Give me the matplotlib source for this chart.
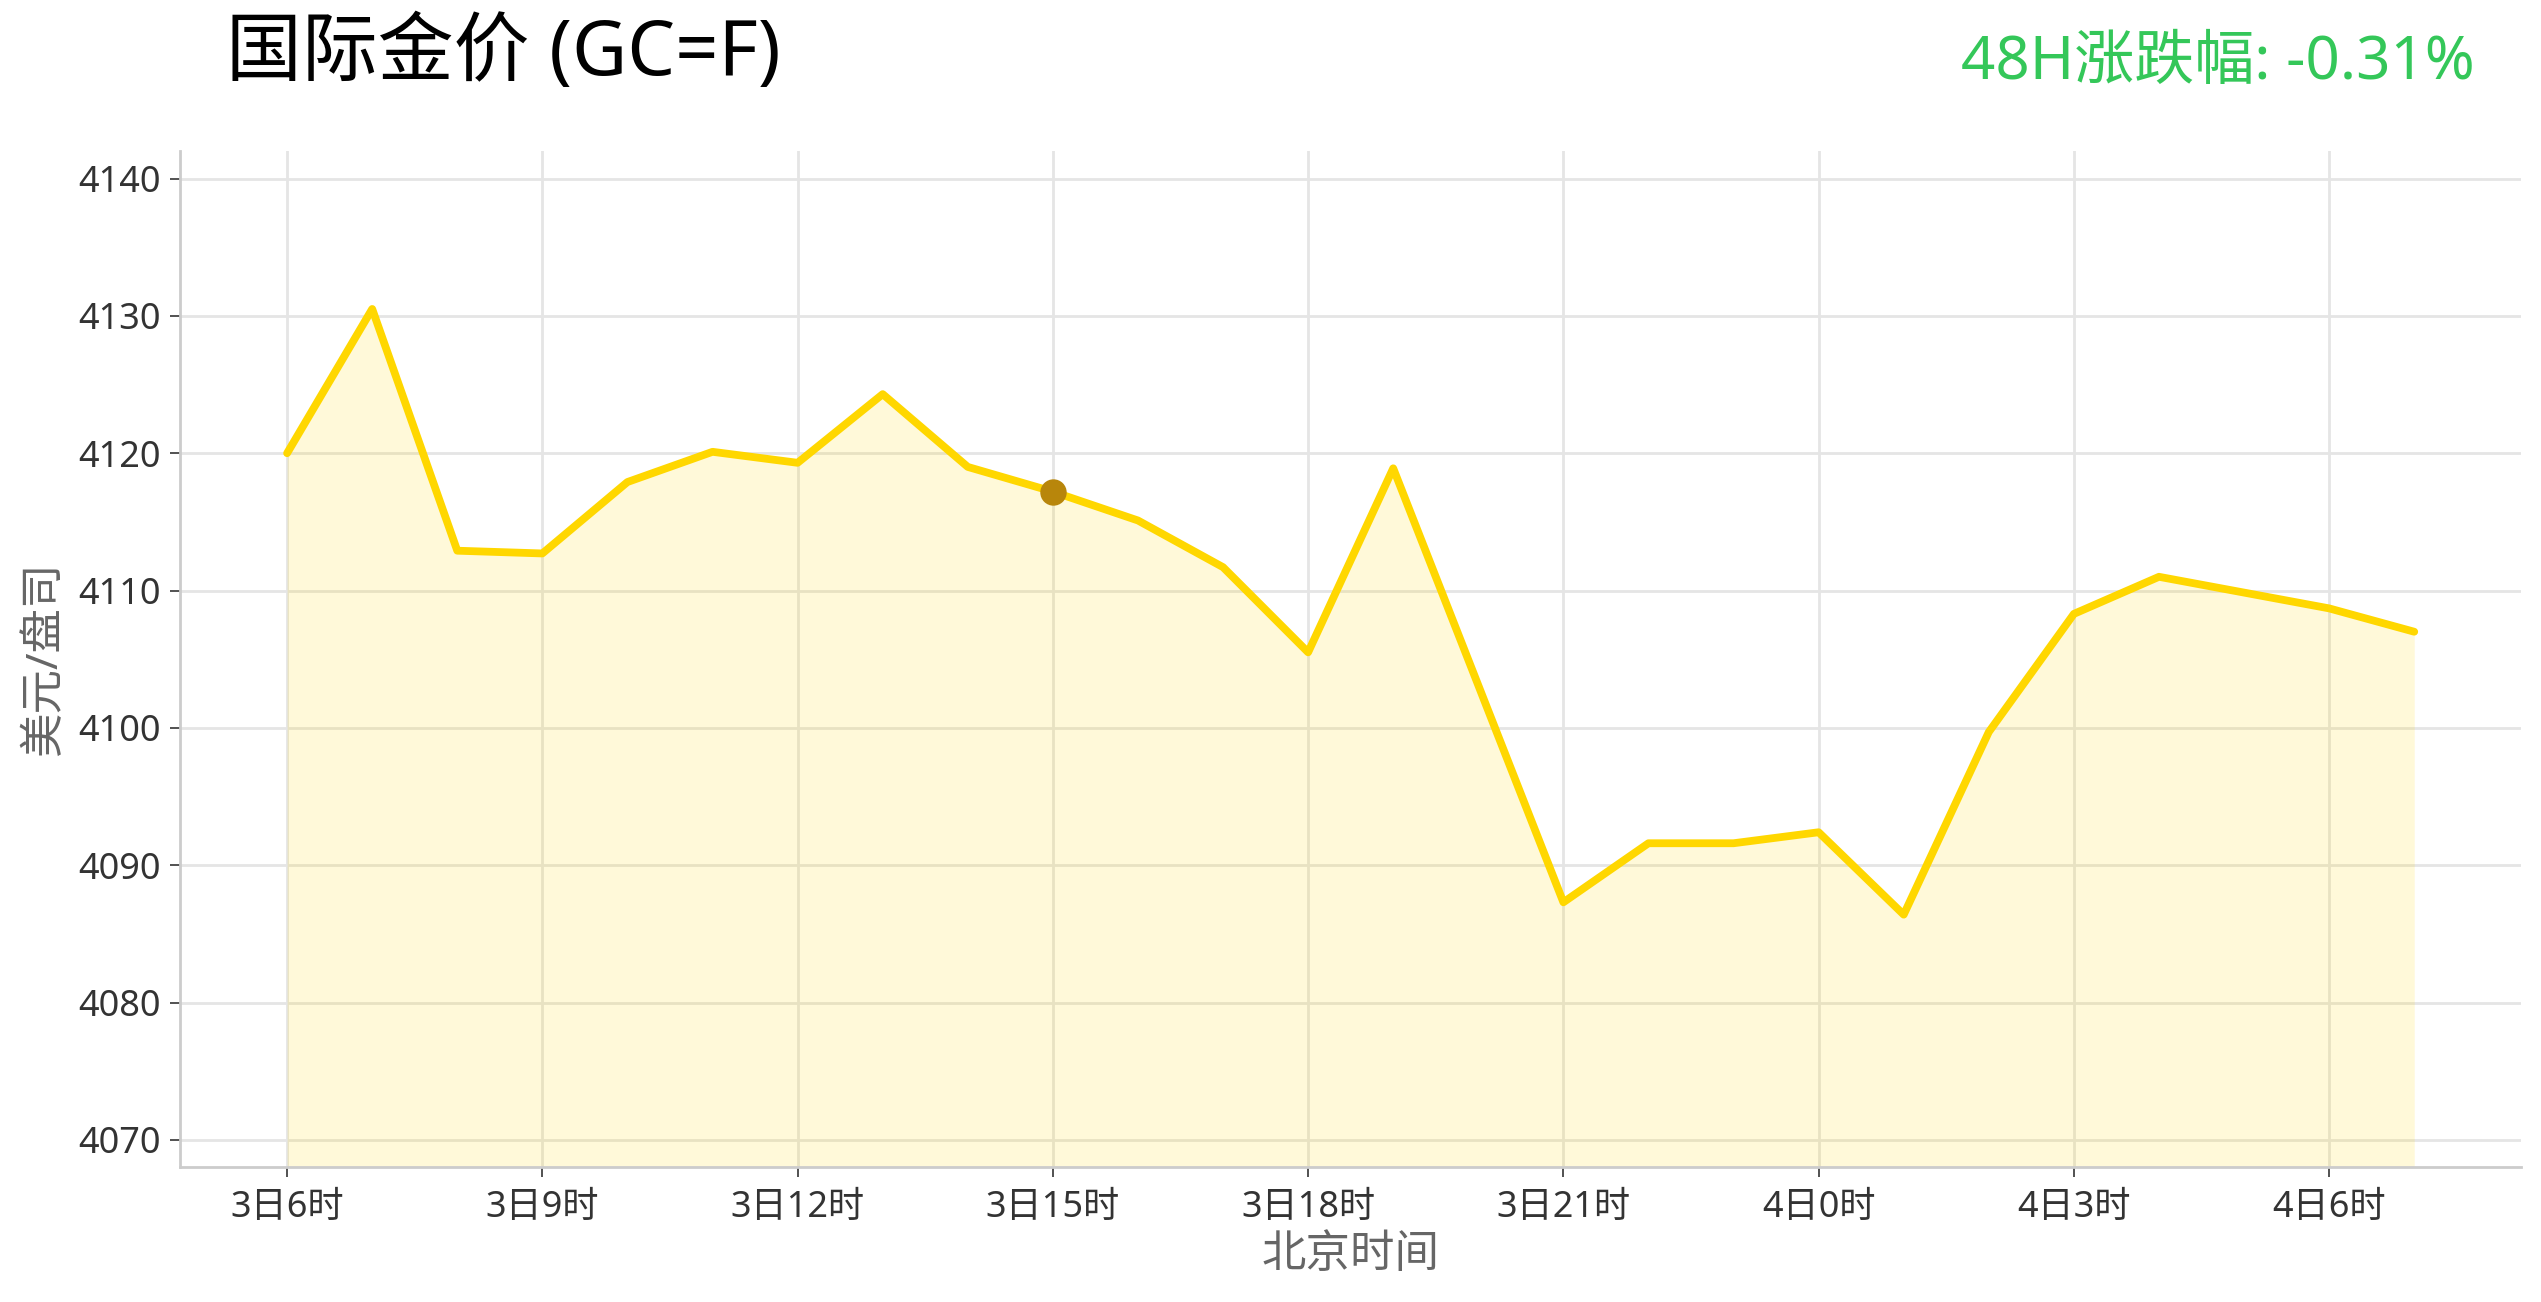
import matplotlib
matplotlib.use("Agg")
import matplotlib.pyplot as plt

plt.rcParams['font.family'] = ['Noto Sans', 'Noto Sans CJK SC', 'DejaVu Sans']

# hourly gold price (hour counted from 3日0时)
hours = [6, 7, 8, 9, 10, 11, 12, 13, 14, 15, 16, 17, 18, 19,
         21, 22, 23, 24, 25, 26, 27, 28, 30, 31]
prices = [4120.0, 4130.5, 4112.9, 4112.7, 4117.9, 4120.1, 4119.3, 4124.3,
          4119.0, 4117.2, 4115.1, 4111.7, 4105.5, 4118.9,
          4087.3, 4091.6, 4091.6, 4092.4, 4086.4, 4099.7, 4108.3, 4111.0,
          4108.7, 4107.0]

tick_hours = [6, 9, 12, 15, 18, 21, 24, 27, 30]
tick_labels = ["3日6时", "3日9时", "3日12时", "3日15时", "3日18时",
               "3日21时", "4日0时", "4日3时", "4日6时"]
y_ticks = [4070, 4080, 4090, 4100, 4110, 4120, 4130, 4140]

marker_hour = 15
marker_price = 4117.2

fig = plt.figure(figsize=(12.705, 6.51), dpi=200)
ax = fig.add_axes([0.0708, 0.1034, 0.9215, 0.7806])

ax.fill_between(hours, prices, 4068, color="#FFD700", alpha=0.15, linewidth=0)
ax.plot(hours, prices, color="#FFD700", linewidth=2.8,
        solid_joinstyle="round", solid_capstyle="round", zorder=3)
ax.plot([marker_hour], [marker_price], "o", color="#B8860B",
        markersize=8.5, zorder=4)

ax.set_xlim(4.74, 32.26)
ax.set_ylim(4068, 4142)
ax.set_xticks(tick_hours)
ax.set_xticklabels(tick_labels)
ax.set_yticks(y_ticks)

ax.grid(True, color="#e5e5e5", linewidth=1.0)
ax.set_axisbelow(True)
for side in ["top", "right"]:
    ax.spines[side].set_visible(False)
for side in ["left", "bottom"]:
    ax.spines[side].set_color("#cccccc")
    ax.spines[side].set_linewidth(1.0)

ax.tick_params(axis="both", colors="#333333", labelsize=13,
               length=3.5, width=0.6)
ax.tick_params(axis="x", pad=4.5)

ax.set_xlabel("北京时间", fontsize=16, color="#666666", labelpad=3)
ax.set_ylabel("美元/盘司", fontsize=16, color="#666666", labelpad=4)

fig.text(0.089, 0.958, "国际金价 (GC=F)", fontsize=27.3, va="center", color="black")
fig.text(0.974, 0.952, "48H涨跌幅: -0.31%", fontsize=21.6, va="center",
         ha="right", color="#34C759")

fig.savefig("out.png", dpi=200)
